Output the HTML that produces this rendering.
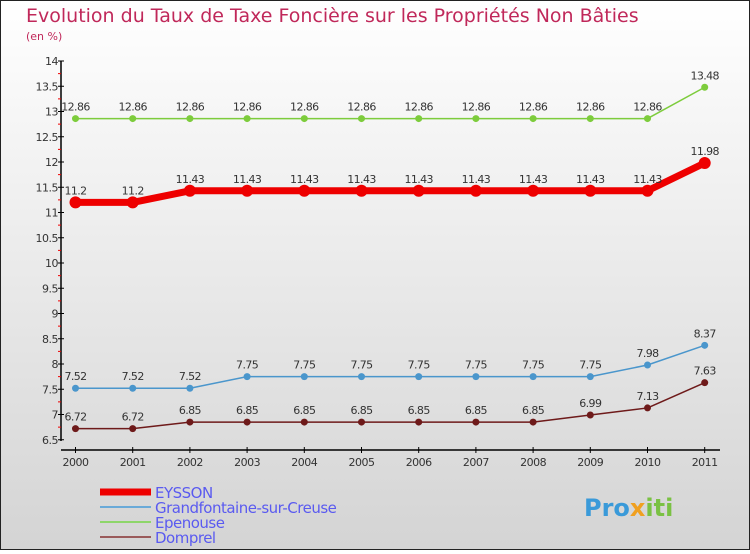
<!DOCTYPE html>
<html><head><meta charset="utf-8"><style>
html,body{margin:0;padding:0}
body{width:750px;height:550px;overflow:hidden;font-family:"DejaVu Sans","Liberation Sans",sans-serif}
</style></head><body>
<svg width="750" height="550" xmlns="http://www.w3.org/2000/svg">
<defs><linearGradient id="bg" x1="0" y1="0" x2="0" y2="1"><stop offset="0" stop-color="#ffffff"/><stop offset="1" stop-color="#d4d4d4"/></linearGradient></defs>
<rect x="0.5" y="0.5" width="749" height="549" fill="url(#bg)" stroke="#222"/>
<text x="26" y="22" font-size="19" fill="#c0285a">Evolution du Taux de Taxe Foncière sur les Propriétés Non Bâties</text>
<text x="26" y="40" font-size="11" fill="#c0285a">(en %)</text>
<g id="axes"></g><g id="series"></g><g id="legend"></g>
<text x="584" y="516" font-size="24" font-weight="bold" fill="#3a9ad9">Pro<tspan fill="#f0a020">x</tspan><tspan fill="#7ac143">iti</tspan></text>
</svg>
<script>
const years=["2000","2001","2002","2003","2004","2005","2006","2007","2008","2009","2010","2011"];
const yTicks=[6.5,7,7.5,8,8.5,9,9.5,10,10.5,11,11.5,12,12.5,13,13.5,14];
const eysson=[11.2,11.2,11.43,11.43,11.43,11.43,11.43,11.43,11.43,11.43,11.43,11.98];
const grandfontaine=[7.52,7.52,7.52,7.75,7.75,7.75,7.75,7.75,7.75,7.75,7.98,8.37];
const epenouse=[12.86,12.86,12.86,12.86,12.86,12.86,12.86,12.86,12.86,12.86,12.86,13.48];
const domprel=[6.72,6.72,6.85,6.85,6.85,6.85,6.85,6.85,6.85,6.99,7.13,7.63];
const names=["EYSSON","Grandfontaine-sur-Creuse","Epenouse","Domprel"];
const NS="http://www.w3.org/2000/svg";
function X(i){return 75.5+i*57.2;}
function Y(v){return 61+(14-v)*50.5;}
function el(t,a,p){const e=document.createElementNS(NS,t);for(const k in a)e.setAttribute(k,a[k]);p.appendChild(e);return e;}
const axes=document.getElementById('axes');
let ax=el('line',{x1:61,y1:61,x2:61,y2:441,stroke:'#000','stroke-width':1.5},axes);


let xa=el('line',{x1:61,y1:450,x2:720,y2:450,stroke:'#000','stroke-width':1.5},axes);


yTicks.forEach((v,i)=>{
 el('line',{x1:58,y1:Y(v),x2:64,y2:Y(v),stroke:'#000'},axes);
 if(i<yTicks.length-1)el('line',{x1:58,y1:Y(v+0.25),x2:61,y2:Y(v+0.25),stroke:'#e00'},axes);
 const t=el('text',{x:58,y:Y(v)+4,'text-anchor':'end','font-size':11,fill:'#333','letter-spacing':'-0.5'},axes);
 t.textContent=String(v);
 
 
});
years.forEach((y,i)=>{
 el('line',{x1:X(i),y1:447,x2:X(i),y2:453,stroke:'#000'},axes);
 const t=el('text',{x:X(i),y:466,'text-anchor':'middle','font-size':11,fill:'#333','letter-spacing':'-0.5'},axes);
 t.textContent=y;
 
 
});
const S=document.getElementById('series');
function draw(vals,color,lw,r,name){
 const g=el('g',{},S);
 
 
 el('polyline',{points:vals.map((v,i)=>X(i)+','+Y(v)).join(' '),fill:'none',stroke:color,'stroke-width':lw,'stroke-linejoin':'round'},g);
 vals.forEach((v,i)=>{
  const c=el('circle',{cx:X(i),cy:Y(v),r:r,fill:color},g);
  
  
  const t=el('text',{x:X(i),y:Y(v)-8,'text-anchor':'middle','font-size':11,fill:'#333','letter-spacing':'-0.6'},g);
  t.textContent=String(v);
  
  
 });
}
draw(epenouse,'#7dcc3c',1.5,3.5,'series-epenouse');
draw(eysson,'#ee0000',7,6,'series-eysson');
draw(grandfontaine,'#4a96cc',1.5,3.5,'series-grandfontaine');
draw(domprel,'#6e1a1a',1.5,3.5,'series-domprel');
const L=document.getElementById('legend');
const lc=['#ee0000','#6aaad8','#8ed66a','#9a5a5a'],lw=[7,2,2,2];
names.forEach((n,i)=>{
 const y=492+i*15;
 el('line',{x1:100,y1:y,x2:151,y2:y,stroke:lc[i],'stroke-width':lw[i]},L);
 const t=el('text',{x:155,y:y+6,'font-size':15,fill:'#5a5af0','letter-spacing':'-0.5'},L);
 t.textContent=n;
 
 
});
</script>
</body></html>
